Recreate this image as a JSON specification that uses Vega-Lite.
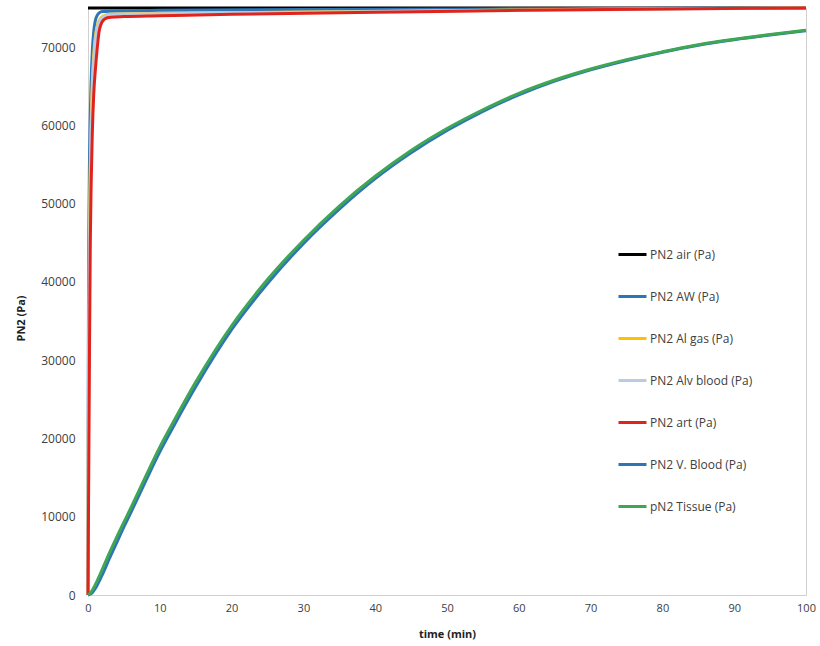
{
  "$schema": "https://vega.github.io/schema/vega-lite/v6.json",
  "width": 718,
  "height": 587,
  "autosize": {"type": "none"},
  "padding": {"left": 88, "top": 8, "right": 14, "bottom": 51},
  "background": "white",
  "config": {
    "view": {"stroke": "#D0D0D0", "strokeWidth": 1},
    "font": "Open Sans"
  },
  "data": {
    "values": [
      {"s": "PN2 air (Pa)", "t": 0, "v": 75000},
      {"s": "PN2 air (Pa)", "t": 100, "v": 75000},

      {"s": "PN2 AW (Pa)", "t": 0, "v": 0},
      {"s": "PN2 AW (Pa)", "t": 0.03, "v": 25000},
      {"s": "PN2 AW (Pa)", "t": 0.07, "v": 38000},
      {"s": "PN2 AW (Pa)", "t": 0.12, "v": 47000},
      {"s": "PN2 AW (Pa)", "t": 0.2, "v": 55000},
      {"s": "PN2 AW (Pa)", "t": 0.3, "v": 60500},
      {"s": "PN2 AW (Pa)", "t": 0.4, "v": 64500},
      {"s": "PN2 AW (Pa)", "t": 0.6, "v": 69500},
      {"s": "PN2 AW (Pa)", "t": 0.8, "v": 72000},
      {"s": "PN2 AW (Pa)", "t": 1, "v": 73300},
      {"s": "PN2 AW (Pa)", "t": 1.25, "v": 74000},
      {"s": "PN2 AW (Pa)", "t": 1.6, "v": 74400},
      {"s": "PN2 AW (Pa)", "t": 2, "v": 74550},
      {"s": "PN2 AW (Pa)", "t": 3, "v": 74600},
      {"s": "PN2 AW (Pa)", "t": 10, "v": 74700},
      {"s": "PN2 AW (Pa)", "t": 30, "v": 74800},
      {"s": "PN2 AW (Pa)", "t": 60, "v": 74900},
      {"s": "PN2 AW (Pa)", "t": 100, "v": 75000},

      {"s": "PN2 Al gas (Pa)", "t": 0, "v": 0},
      {"s": "PN2 Al gas (Pa)", "t": 0.05, "v": 20000},
      {"s": "PN2 Al gas (Pa)", "t": 0.1, "v": 32000},
      {"s": "PN2 Al gas (Pa)", "t": 0.2, "v": 46000},
      {"s": "PN2 Al gas (Pa)", "t": 0.3, "v": 54000},
      {"s": "PN2 Al gas (Pa)", "t": 0.45, "v": 61000},
      {"s": "PN2 Al gas (Pa)", "t": 0.6, "v": 65500},
      {"s": "PN2 Al gas (Pa)", "t": 0.8, "v": 69000},
      {"s": "PN2 Al gas (Pa)", "t": 1, "v": 71200},
      {"s": "PN2 Al gas (Pa)", "t": 1.3, "v": 72800},
      {"s": "PN2 Al gas (Pa)", "t": 1.7, "v": 73600},
      {"s": "PN2 Al gas (Pa)", "t": 2.2, "v": 74000},
      {"s": "PN2 Al gas (Pa)", "t": 3, "v": 74200},
      {"s": "PN2 Al gas (Pa)", "t": 10, "v": 74300},
      {"s": "PN2 Al gas (Pa)", "t": 30, "v": 74500},
      {"s": "PN2 Al gas (Pa)", "t": 60, "v": 74750},
      {"s": "PN2 Al gas (Pa)", "t": 85, "v": 74950},
      {"s": "PN2 Al gas (Pa)", "t": 100, "v": 75000},

      {"s": "PN2 Alv blood (Pa)", "t": 0, "v": 0},
      {"s": "PN2 Alv blood (Pa)", "t": 0.05, "v": 18000},
      {"s": "PN2 Alv blood (Pa)", "t": 0.1, "v": 29000},
      {"s": "PN2 Alv blood (Pa)", "t": 0.2, "v": 43000},
      {"s": "PN2 Alv blood (Pa)", "t": 0.3, "v": 52000},
      {"s": "PN2 Alv blood (Pa)", "t": 0.45, "v": 59500},
      {"s": "PN2 Alv blood (Pa)", "t": 0.6, "v": 64500},
      {"s": "PN2 Alv blood (Pa)", "t": 0.8, "v": 68300},
      {"s": "PN2 Alv blood (Pa)", "t": 1, "v": 70700},
      {"s": "PN2 Alv blood (Pa)", "t": 1.3, "v": 72500},
      {"s": "PN2 Alv blood (Pa)", "t": 1.7, "v": 73400},
      {"s": "PN2 Alv blood (Pa)", "t": 2.2, "v": 73900},
      {"s": "PN2 Alv blood (Pa)", "t": 3, "v": 74100},
      {"s": "PN2 Alv blood (Pa)", "t": 10, "v": 74250},
      {"s": "PN2 Alv blood (Pa)", "t": 30, "v": 74450},
      {"s": "PN2 Alv blood (Pa)", "t": 60, "v": 74700},
      {"s": "PN2 Alv blood (Pa)", "t": 100, "v": 75000},

      {"s": "PN2 art (Pa)", "t": 0, "v": 0},
      {"s": "PN2 art (Pa)", "t": 0.05, "v": 8000},
      {"s": "PN2 art (Pa)", "t": 0.1, "v": 15000},
      {"s": "PN2 art (Pa)", "t": 0.2, "v": 30000},
      {"s": "PN2 art (Pa)", "t": 0.32, "v": 45000},
      {"s": "PN2 art (Pa)", "t": 0.45, "v": 53000},
      {"s": "PN2 art (Pa)", "t": 0.6, "v": 59000},
      {"s": "PN2 art (Pa)", "t": 0.8, "v": 64000},
      {"s": "PN2 art (Pa)", "t": 1.07, "v": 67600},
      {"s": "PN2 art (Pa)", "t": 1.3, "v": 70000},
      {"s": "PN2 art (Pa)", "t": 1.53, "v": 71900},
      {"s": "PN2 art (Pa)", "t": 1.8, "v": 72900},
      {"s": "PN2 art (Pa)", "t": 2.2, "v": 73500},
      {"s": "PN2 art (Pa)", "t": 2.7, "v": 73750},
      {"s": "PN2 art (Pa)", "t": 3.2, "v": 73830},
      {"s": "PN2 art (Pa)", "t": 5, "v": 73900},
      {"s": "PN2 art (Pa)", "t": 10, "v": 74000},
      {"s": "PN2 art (Pa)", "t": 20, "v": 74200},
      {"s": "PN2 art (Pa)", "t": 40, "v": 74450},
      {"s": "PN2 art (Pa)", "t": 60, "v": 74700},
      {"s": "PN2 art (Pa)", "t": 80, "v": 74880},
      {"s": "PN2 art (Pa)", "t": 100, "v": 75000},

      {"s": "PN2 V. Blood (Pa)", "t": 0, "v": 0},
      {"s": "PN2 V. Blood (Pa)", "t": 0.5, "v": 200},
      {"s": "PN2 V. Blood (Pa)", "t": 1, "v": 800},
      {"s": "PN2 V. Blood (Pa)", "t": 2, "v": 2600},
      {"s": "PN2 V. Blood (Pa)", "t": 3, "v": 4700},
      {"s": "PN2 V. Blood (Pa)", "t": 4, "v": 6700},
      {"s": "PN2 V. Blood (Pa)", "t": 5, "v": 8700},
      {"s": "PN2 V. Blood (Pa)", "t": 6, "v": 10600},
      {"s": "PN2 V. Blood (Pa)", "t": 8, "v": 14500},
      {"s": "PN2 V. Blood (Pa)", "t": 10, "v": 18300},
      {"s": "PN2 V. Blood (Pa)", "t": 12, "v": 21700},
      {"s": "PN2 V. Blood (Pa)", "t": 15, "v": 26600},
      {"s": "PN2 V. Blood (Pa)", "t": 20, "v": 33900},
      {"s": "PN2 V. Blood (Pa)", "t": 25, "v": 39800},
      {"s": "PN2 V. Blood (Pa)", "t": 30, "v": 44900},
      {"s": "PN2 V. Blood (Pa)", "t": 35, "v": 49300},
      {"s": "PN2 V. Blood (Pa)", "t": 40, "v": 53200},
      {"s": "PN2 V. Blood (Pa)", "t": 45, "v": 56500},
      {"s": "PN2 V. Blood (Pa)", "t": 50, "v": 59350},
      {"s": "PN2 V. Blood (Pa)", "t": 55, "v": 61800},
      {"s": "PN2 V. Blood (Pa)", "t": 60, "v": 63900},
      {"s": "PN2 V. Blood (Pa)", "t": 65, "v": 65650},
      {"s": "PN2 V. Blood (Pa)", "t": 70, "v": 67100},
      {"s": "PN2 V. Blood (Pa)", "t": 75, "v": 68300},
      {"s": "PN2 V. Blood (Pa)", "t": 80, "v": 69350},
      {"s": "PN2 V. Blood (Pa)", "t": 85, "v": 70250},
      {"s": "PN2 V. Blood (Pa)", "t": 90, "v": 70950},
      {"s": "PN2 V. Blood (Pa)", "t": 95, "v": 71550},
      {"s": "PN2 V. Blood (Pa)", "t": 100, "v": 72100},

      {"s": "pN2 Tissue (Pa)", "t": 0, "v": 0},
      {"s": "pN2 Tissue (Pa)", "t": 0.5, "v": 450},
      {"s": "pN2 Tissue (Pa)", "t": 1, "v": 1300},
      {"s": "pN2 Tissue (Pa)", "t": 2, "v": 3300},
      {"s": "pN2 Tissue (Pa)", "t": 3, "v": 5400},
      {"s": "pN2 Tissue (Pa)", "t": 4, "v": 7400},
      {"s": "pN2 Tissue (Pa)", "t": 5, "v": 9300},
      {"s": "pN2 Tissue (Pa)", "t": 6, "v": 11200},
      {"s": "pN2 Tissue (Pa)", "t": 8, "v": 15100},
      {"s": "pN2 Tissue (Pa)", "t": 10, "v": 18900},
      {"s": "pN2 Tissue (Pa)", "t": 12, "v": 22300},
      {"s": "pN2 Tissue (Pa)", "t": 15, "v": 27200},
      {"s": "pN2 Tissue (Pa)", "t": 20, "v": 34400},
      {"s": "pN2 Tissue (Pa)", "t": 25, "v": 40300},
      {"s": "pN2 Tissue (Pa)", "t": 30, "v": 45300},
      {"s": "pN2 Tissue (Pa)", "t": 35, "v": 49700},
      {"s": "pN2 Tissue (Pa)", "t": 40, "v": 53500},
      {"s": "pN2 Tissue (Pa)", "t": 45, "v": 56800},
      {"s": "pN2 Tissue (Pa)", "t": 50, "v": 59600},
      {"s": "pN2 Tissue (Pa)", "t": 55, "v": 62000},
      {"s": "pN2 Tissue (Pa)", "t": 60, "v": 64100},
      {"s": "pN2 Tissue (Pa)", "t": 65, "v": 65800},
      {"s": "pN2 Tissue (Pa)", "t": 70, "v": 67200},
      {"s": "pN2 Tissue (Pa)", "t": 75, "v": 68400},
      {"s": "pN2 Tissue (Pa)", "t": 80, "v": 69400},
      {"s": "pN2 Tissue (Pa)", "t": 85, "v": 70300},
      {"s": "pN2 Tissue (Pa)", "t": 90, "v": 71000},
      {"s": "pN2 Tissue (Pa)", "t": 95, "v": 71600},
      {"s": "pN2 Tissue (Pa)", "t": 100, "v": 72150}
    ]
  },
  "mark": {"type": "line", "strokeWidth": 3, "interpolate": "monotone"},
  "encoding": {
    "x": {
      "field": "t",
      "type": "quantitative",
      "scale": {"domain": [0, 100], "nice": false},
      "axis": {
        "values": [0, 10, 20, 30, 40, 50, 60, 70, 80, 90, 100],
        "title": "time (min)",
        "grid": false,
        "domain": false,
        "ticks": false,
        "labelFlush": false,
        "labelPadding": 7,
        "labelFontSize": 11,
        "labelColor": "#404040",
        "titleFontSize": 11,
        "titleFontWeight": "bold",
        "titleColor": "#222222",
        "titlePadding": 15
      }
    },
    "y": {
      "field": "v",
      "type": "quantitative",
      "scale": {"domain": [0, 75000], "nice": false},
      "axis": {
        "values": [0, 10000, 20000, 30000, 40000, 50000, 60000, 70000],
        "format": "d",
        "title": "PN2 (Pa)",
        "grid": false,
        "domain": false,
        "ticks": false,
        "labelFlush": false,
        "labelPadding": 13,
        "labelFontSize": 12,
        "labelColor": "#404040",
        "titleFontSize": 11,
        "titleFontWeight": "bold",
        "titleColor": "#222222",
        "titleX": -62,
        "titleY": 310
      }
    },
    "color": {
      "field": "s",
      "type": "nominal",
      "scale": {
        "domain": ["PN2 air (Pa)", "PN2 AW (Pa)", "PN2 Al gas (Pa)", "PN2 Alv blood (Pa)", "PN2 art (Pa)", "PN2 V. Blood (Pa)", "pN2 Tissue (Pa)"],
        "range": ["#000000", "#2E75B6", "#FFC000", "#BCCCE0", "#E0231C", "#2E75B6", "#3EA654"]
      },
      "legend": {
        "orient": "none",
        "legendX": 529,
        "legendY": 231,
        "title": null,
        "symbolType": "stroke",
        "symbolSize": 784,
        "symbolStrokeWidth": 3,
        "rowPadding": 20,
        "labelFontSize": 12,
        "labelOffset": 2,
        "labelColor": "#404040",
        "labelLimit": 200
      }
    }
  }
}
